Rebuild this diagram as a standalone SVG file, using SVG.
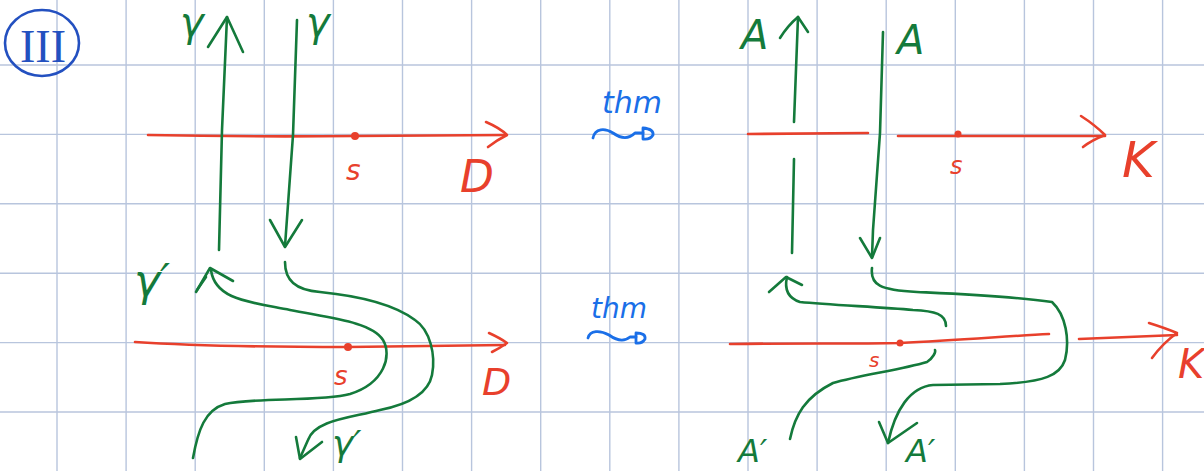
<svg xmlns="http://www.w3.org/2000/svg" width="1204" height="471" viewBox="0 0 1204 471">
<style>
.grid line{stroke:#b8c5dd;stroke-width:1.4}
.g{fill:none;stroke:#147a3b;stroke-width:2.6;stroke-linecap:round;stroke-linejoin:round}
.r{fill:none;stroke:#e8402c;stroke-width:2.6;stroke-linecap:round;stroke-linejoin:round}
.b{fill:none;stroke:#1a6fe8;stroke-width:2.8;stroke-linecap:round;stroke-linejoin:round}
.dot{fill:#e8402c}
text{font-family:"DejaVu Sans",sans-serif;font-style:italic}
.tg{fill:#147a3b}
.tr{fill:#e8402c}
.tb{fill:#1a6fe8}
</style>
<rect width="1204" height="471" fill="#ffffff"/>
<g class="grid" id="grid">
<line x1="57" y1="0" x2="57" y2="471"/><line x1="126.1" y1="0" x2="126.1" y2="471"/><line x1="195.2" y1="0" x2="195.2" y2="471"/><line x1="264.3" y1="0" x2="264.3" y2="471"/><line x1="333.4" y1="0" x2="333.4" y2="471"/><line x1="402.5" y1="0" x2="402.5" y2="471"/><line x1="471.6" y1="0" x2="471.6" y2="471"/><line x1="540.7" y1="0" x2="540.7" y2="471"/><line x1="609.8" y1="0" x2="609.8" y2="471"/><line x1="678.9" y1="0" x2="678.9" y2="471"/><line x1="748" y1="0" x2="748" y2="471"/><line x1="817.1" y1="0" x2="817.1" y2="471"/><line x1="886.2" y1="0" x2="886.2" y2="471"/><line x1="955.3" y1="0" x2="955.3" y2="471"/><line x1="1024.4" y1="0" x2="1024.4" y2="471"/><line x1="1093.5" y1="0" x2="1093.5" y2="471"/><line x1="1162.6" y1="0" x2="1162.6" y2="471"/>
<line x1="0" y1="65" x2="1204" y2="65"/><line x1="0" y1="134.4" x2="1204" y2="134.4"/><line x1="0" y1="203.8" x2="1204" y2="203.8"/><line x1="0" y1="273.2" x2="1204" y2="273.2"/><line x1="0" y1="342.6" x2="1204" y2="342.6"/><line x1="0" y1="412" x2="1204" y2="412"/>
</g>
<g id="label-III">
<ellipse cx="42" cy="43" rx="37" ry="33" fill="none" stroke="#2350c0" stroke-width="2.6"/>
<text x="43" y="62" text-anchor="middle" font-size="46" style="font-family:'Liberation Serif',serif;font-style:normal" fill="#2350c0">III</text>
</g>
<g id="left-top">
<path class="r" d="M148,135 Q250,137 355,136 L506,135"/>
<path class="r" d="M486,122 Q500,128 507,135 Q497,140 488,147"/>
<circle class="dot" cx="355" cy="136" r="4"/>
<text class="tr" x="346" y="180" font-size="28">s</text>
<text class="tr" x="460" y="192" font-size="44">D</text>
<path class="g" d="M219,250 L222,130 L227,17"/>
<path class="g" d="M208,47 L227,17 L243,52"/>
<path class="g" d="M297,20 L293,135 L285,246"/>
<path class="g" d="M270,220 L285,247 L302,220"/>
<text class="tg" x="180" y="36" font-size="40">γ</text>
<text class="tg" x="306" y="36" font-size="40">γ</text>
</g>
<g id="left-bottom">
<path class="r" d="M135,342 C180,345 260,347 348,347 L505,345"/>
<path class="r" d="M489,333 Q500,338 507,343 Q500,348 492,352"/>
<circle class="dot" cx="348" cy="347" r="4"/>
<text class="tr" x="334" y="385" font-size="26">s</text>
<text class="tr" x="482" y="395" font-size="38">D</text>
<path class="g" d="M193,458 C198,430 205,410 225,404 C255,397 320,402 350,394 C385,383 392,355 383,340 C372,322 330,318 290,310 C250,302 215,300 211,270"/>
<path class="g" d="M196,292 L210,268 L233,281"/>
<path class="g" stroke-width="5" d="M197,290 L206,277"/>
<path class="g" d="M285,262 C285,280 295,290 320,292 C360,296 395,305 415,320 C430,330 436,355 432,375 C428,395 405,405 380,410 C350,418 315,420 308,440 L300,458"/>
<path class="g" d="M296,437 L300,459 L322,442"/>
<text class="tg" x="134" y="296" font-size="44">γ′</text>
<text class="tg" x="332" y="456" font-size="36">γ′</text>
</g>
<g id="arrows-thm">
<text class="tb" x="602" y="113" font-size="30">thm</text>
<path class="b" d="M593,138 C595,128 605,128 613,133 C620,138 628,140 635,133 L643,133"/>
<path class="b" d="M643,128 Q654,129 653,135 Q650,140 643,139 Z"/>
<text class="tb" x="591" y="318" font-size="28">thm</text>
<path class="b" d="M588,338 C590,330 600,330 609,335 C616,340 624,342 630,337 L636,337"/>
<path class="b" d="M636,333 Q646,333 645,339 Q642,344 636,343 Z"/>
</g>
<g id="right-top">
<path class="r" d="M748,134 L868,133"/>
<path class="r" d="M898,136 L1105,136"/>
<path class="r" d="M1081,116 Q1095,125 1105,135 Q1092,140 1083,147"/>
<circle class="dot" cx="958" cy="134" r="3.5"/>
<text class="tr" x="950" y="174" font-size="24">s</text>
<text class="tr" x="1122" y="177" font-size="50">K</text>
<path class="g" d="M794,122 L798,17"/>
<path class="g" d="M780,38 C785,30 792,22 798,17 L808,32"/>
<path class="g" d="M794,159 L792,253"/>
<path class="g" d="M883,32 L880,133 L873,230 L872,257"/>
<path class="g" d="M860,238 L872,258 L880,238"/>
<text class="tg" x="741" y="49" font-size="40">A</text>
<text class="tg" x="897" y="54" font-size="40">A</text>
</g>
<g id="right-bottom">
<path class="r" d="M730,344 C800,343 850,344 900,343 C960,340 1010,336 1049,334"/>
<path class="r" d="M1079,339 L1177,335"/>
<path class="r" d="M1149,323 Q1165,328 1177,333 Q1163,343 1152,358"/>
<circle class="dot" cx="900" cy="343" r="3.5"/>
<text class="tr" x="869" y="367" font-size="20">s</text>
<text class="tr" x="1178" y="378" font-size="40">K</text>
<path class="g" d="M946,326 C946,314 935,311 913,310 C880,307 830,305 800,302 C788,298 784,290 787,277"/>
<path class="g" d="M769,292 L786,277 L802,285"/>
<path class="g" d="M872,268 C870,285 880,290 917,292 C960,294 1010,296 1052,302 C1066,315 1070,340 1065,360 C1060,375 1045,382 1000,384 L933,385 C910,387 895,410 888,443"/>
<path class="g" d="M879,422 L888,443 L917,423"/>
<path class="g" d="M790,439 C795,415 805,397 833,383 C860,375 900,370 927,362 C933,358 936,352 935,350"/>
<text class="tg" x="738" y="462" font-size="32">A′</text>
<text class="tg" x="906" y="462" font-size="32">A′</text>
</g>
</svg>
